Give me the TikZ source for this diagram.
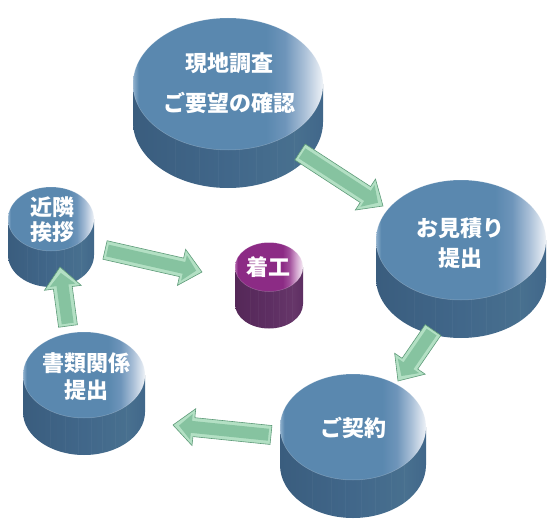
\documentclass[tikz,border=0pt]{standalone}
\usepackage{fontspec}
\newfontfamily\jpfont{Noto Sans CJK JP}
\usetikzlibrary{calc}
\definecolor{tbA}{HTML}{8FB0CD}
\definecolor{tbB}{HTML}{5A88AF}
\definecolor{tbC}{HTML}{6E95BA}
\definecolor{tbD}{HTML}{A9BFD7}
\definecolor{tbE}{HTML}{EEF2F7}
\definecolor{sbA}{HTML}{3A5D7E}
\definecolor{sbB}{HTML}{41678A}
\definecolor{sbC}{HTML}{48708F}
\definecolor{tpA}{HTML}{B36BAE}
\definecolor{tpB}{HTML}{8C2B85}
\definecolor{tpC}{HTML}{A2509C}
\definecolor{tpD}{HTML}{D3A4CF}
\definecolor{tpE}{HTML}{F6ECF5}
\definecolor{spA}{HTML}{552858}
\definecolor{spB}{HTML}{5D2E62}
\definecolor{spC}{HTML}{663669}
\definecolor{arrRim}{HTML}{B3E0C4}
\definecolor{arrIn}{HTML}{86C3A0}
\definecolor{arrEdge}{HTML}{5E9B79}
\pgfdeclarehorizontalshading{topblue}{100bp}{color(0bp)=(tbA); color(25bp)=(tbA); color(26.5bp)=(tbB); color(60bp)=(tbB); color(65bp)=(tbC); color(70bp)=(tbD); color(75bp)=(tbE); color(100bp)=(tbE)}
\pgfdeclarehorizontalshading{sideblue}{100bp}{color(0bp)=(sbA); color(25bp)=(sbA); color(50bp)=(sbB); color(68bp)=(sbC); color(75bp)=(sbB); color(100bp)=(sbB)}
\pgfdeclarehorizontalshading{toppurple}{100bp}{color(0bp)=(tpA); color(25bp)=(tpA); color(27bp)=(tpB); color(60bp)=(tpB); color(65bp)=(tpC); color(70bp)=(tpD); color(75bp)=(tpE); color(100bp)=(tpE)}
\pgfdeclarehorizontalshading{sidepurple}{100bp}{color(0bp)=(spA); color(25bp)=(spA); color(50bp)=(spB); color(68bp)=(spC); color(75bp)=(spB); color(100bp)=(spB)}
% #1 name, #2 cx, #3 cy, #4 rx, #5 ry, #6 height, #7 top shading, #8 side shading
\newcommand\mycyl[8]{%
  \shade[shading=#8] (#2-#4,#3) -- (#2-#4,#3+#6)
     arc[start angle=180,end angle=0,x radius=#4,y radius=#5] -- (#2+#4,#3) -- cycle;
  \foreach \f in {-0.55,-0.3,-0.1,0.12,0.3,0.52,0.7}{
    \draw[white,opacity=0.035,line width=0.8pt]
      ({#2+\f*#4},{#3+#5*sqrt(1-\f*\f)}) -- ({#2+\f*#4},{#3+#6+#5*sqrt(1-\f*\f)});
  }
  \shade[shading=#7] (#2,#3) ellipse[x radius=#4,y radius=#5];
  \draw[white,opacity=0.25,line width=0.5pt] (#2,#3) ellipse[x radius=#4,y radius=#5];
  \coordinate (#1) at (#2,#3);
}
% #1 tail, #2 tip, #3 prefix
\newcommand\blockarrow[3]{%
  \coordinate (#3hb) at ($(#2)!21pt!(#1)$);
  \coordinate (#3t1) at ($(#1)!9.5pt!90:(#2)$);
  \coordinate (#3t2) at ($(#1)!9.5pt!-90:(#2)$);
  \coordinate (#3s1) at ($(#3hb)!9.5pt!90:(#2)$);
  \coordinate (#3s2) at ($(#3hb)!9.5pt!-90:(#2)$);
  \coordinate (#3b1) at ($(#3hb)!18.5pt!90:(#2)$);
  \coordinate (#3b2) at ($(#3hb)!18.5pt!-90:(#2)$);
  \coordinate (#3ti) at ($(#1)!2.5pt!(#2)$);
  \coordinate (#3hi) at ($(#2)!6pt!(#1)$);
  \coordinate (#3hbi) at ($(#3hb)!2.5pt!(#2)$);
  \coordinate (#3ti1) at ($(#3ti)!6pt!90:(#2)$);
  \coordinate (#3ti2) at ($(#3ti)!6pt!-90:(#2)$);
  \coordinate (#3si1) at ($(#3hbi)!6pt!90:(#2)$);
  \coordinate (#3si2) at ($(#3hbi)!6pt!-90:(#2)$);
  \coordinate (#3bi1) at ($(#3hbi)!13pt!90:(#2)$);
  \coordinate (#3bi2) at ($(#3hbi)!13pt!-90:(#2)$);
  \draw[arrowrim] (#3t1) -- (#3s1) -- (#3b1) -- (#2) -- (#3b2) -- (#3s2) -- (#3t2) -- cycle;
  \fill[arrowin] (#3ti1) -- (#3si1) -- (#3bi1) -- (#3hi) -- (#3bi2) -- (#3si2) -- (#3ti2) -- cycle;
}
\tikzset{
  arrowrim/.style={fill=arrRim,draw=arrEdge,line width=0.6pt,line join=miter},
  arrowin/.style={fill=arrIn},
  lbl/.style={text=white,align=center,inner sep=0pt},
}
\begin{document}
\begin{tikzpicture}[x=1pt,y=-1pt]
\useasboundingbox (0,0) rectangle (554,532);
% cylinders
\mycyl{c1}{228}{84}{95}{66}{38}{topblue}{sideblue}
\mycyl{c2}{461}{240}{85}{60}{38}{topblue}{sideblue}
\mycyl{c3}{353}{427}{73}{53}{38}{topblue}{sideblue}
\mycyl{c4}{84}{375}{61}{43}{37}{topblue}{sideblue}
\mycyl{c5}{51}{219}{43}{32}{36}{topblue}{sideblue}
\mycyl{c6}{269}{267}{34}{24.5}{37}{toppurple}{sidepurple}
% labels
\node[lbl,font=\jpfont\bfseries\fontsize{22}{40}\selectfont] (l1) at (229,83) {現地調査\\ご要望の確認};
\node[lbl,font=\jpfont\bfseries\fontsize{22}{30}\selectfont] (l2) at (460,243) {お見積り\\提出};
\node[lbl,font=\jpfont\bfseries\fontsize{22}{30}\selectfont] (l3) at (353,428) {ご契約};
\node[lbl,font=\jpfont\bfseries\fontsize{22}{27}\selectfont] (l4) at (86,376.5) {書類関係\\提出};
\node[lbl,font=\jpfont\bfseries\fontsize{22}{25}\selectfont] (l5) at (52,219.5) {近隣\\挨拶};
\node[lbl,font=\jpfont\bfseries\fontsize{22}{25}\selectfont] (l6) at (268,267) {着工};
% arrow end points
\coordinate (aT) at (300,152); \coordinate (aH) at (383,206);
\coordinate (bT) at (433,330); \coordinate (bH) at (398,381);
\coordinate (cT) at (271,435); \coordinate (cH) at (173,425);
\coordinate (dT) at (68,326);  \coordinate (dH) at (60,267);
\coordinate (eT) at (105,250); \coordinate (eH) at (202,272);
\blockarrow{aT}{aH}{a}
\blockarrow{bT}{bH}{b}
\blockarrow{cT}{cH}{c}
\blockarrow{dT}{dH}{d}
\blockarrow{eT}{eH}{e}
\end{tikzpicture}
\end{document}
